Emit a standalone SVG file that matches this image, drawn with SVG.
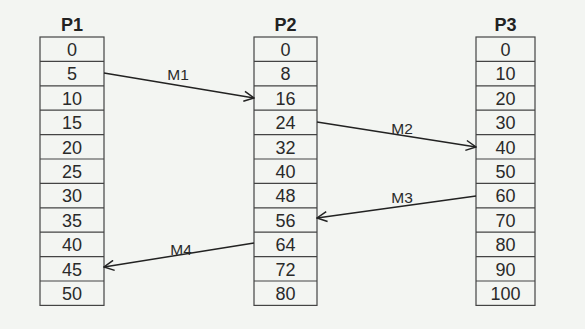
<svg xmlns="http://www.w3.org/2000/svg" width="585" height="329" viewBox="0 0 585 329">
<defs>
<style>
.cell{fill:none;stroke:#444;stroke-width:1.2}
.t{font-family:"Liberation Sans",Arial,sans-serif;font-size:18px;fill:#2a2a2a;text-anchor:middle}
.h{font-family:"Liberation Sans",Arial,sans-serif;font-size:18px;font-weight:bold;fill:#222;text-anchor:middle}
.m{font-family:"Liberation Sans",Arial,sans-serif;font-size:15.5px;fill:#2a2a2a;text-anchor:middle}
.c{stroke:#222;stroke-width:1.5;fill:none}
</style>
<marker id="ah" viewBox="0 0 12 12" refX="11" refY="6" markerWidth="12" markerHeight="12" markerUnits="userSpaceOnUse" orient="auto">
<path d="M1,1 L11,6 L1,11" fill="none" stroke="#222" stroke-width="1.5"/>
</marker>
</defs>
<rect width="585" height="329" fill="#f3f5f2"/>
<g id="P1">
<text class="h" x="72" y="31">P1</text>
<rect class="cell" x="40" y="37" width="64" height="268.4"/>
<path class="cell" d="M40,61.4H104M40,85.8H104M40,110.2H104M40,134.6H104M40,159H104M40,183.4H104M40,207.8H104M40,232.2H104M40,256.6H104M40,281H104"/>
<text class="t" x="72" y="56">0</text>
<text class="t" x="72" y="80.4">5</text>
<text class="t" x="72" y="104.8">10</text>
<text class="t" x="72" y="129.2">15</text>
<text class="t" x="72" y="153.6">20</text>
<text class="t" x="72" y="178">25</text>
<text class="t" x="72" y="202.4">30</text>
<text class="t" x="72" y="226.8">35</text>
<text class="t" x="72" y="251.2">40</text>
<text class="t" x="72" y="275.6">45</text>
<text class="t" x="72" y="300">50</text>
</g>
<g id="P2">
<text class="h" x="285.5" y="31">P2</text>
<rect class="cell" x="254" y="37" width="63" height="268.4"/>
<path class="cell" d="M254,61.4H317M254,85.8H317M254,110.2H317M254,134.6H317M254,159H317M254,183.4H317M254,207.8H317M254,232.2H317M254,256.6H317M254,281H317"/>
<text class="t" x="285.5" y="56">0</text>
<text class="t" x="285.5" y="80.4">8</text>
<text class="t" x="285.5" y="104.8">16</text>
<text class="t" x="285.5" y="129.2">24</text>
<text class="t" x="285.5" y="153.6">32</text>
<text class="t" x="285.5" y="178">40</text>
<text class="t" x="285.5" y="202.4">48</text>
<text class="t" x="285.5" y="226.8">56</text>
<text class="t" x="285.5" y="251.2">64</text>
<text class="t" x="285.5" y="275.6">72</text>
<text class="t" x="285.5" y="300">80</text>
</g>
<g id="P3">
<text class="h" x="505.5" y="31">P3</text>
<rect class="cell" x="476" y="37" width="59" height="268.4"/>
<path class="cell" d="M476,61.4H535M476,85.8H535M476,110.2H535M476,134.6H535M476,159H535M476,183.4H535M476,207.8H535M476,232.2H535M476,256.6H535M476,281H535"/>
<text class="t" x="505.5" y="56">0</text>
<text class="t" x="505.5" y="80.4">10</text>
<text class="t" x="505.5" y="104.8">20</text>
<text class="t" x="505.5" y="129.2">30</text>
<text class="t" x="505.5" y="153.6">40</text>
<text class="t" x="505.5" y="178">50</text>
<text class="t" x="505.5" y="202.4">60</text>
<text class="t" x="505.5" y="226.8">70</text>
<text class="t" x="505.5" y="251.2">80</text>
<text class="t" x="505.5" y="275.6">90</text>
<text class="t" x="505.5" y="300">100</text>
</g>
<g id="connectors">
<line class="c" x1="104" y1="73" x2="254" y2="98" marker-end="url(#ah)"/>
<line class="c" x1="317" y1="122" x2="476" y2="147" marker-end="url(#ah)"/>
<line class="c" x1="476" y1="196" x2="317" y2="218" marker-end="url(#ah)"/>
<line class="c" x1="254" y1="243" x2="104" y2="267" marker-end="url(#ah)"/>
<text class="m" x="178" y="80">M1</text>
<text class="m" x="402" y="134">M2</text>
<text class="m" x="402" y="203">M3</text>
<text class="m" x="181" y="255">M4</text>
</g>
</svg>
